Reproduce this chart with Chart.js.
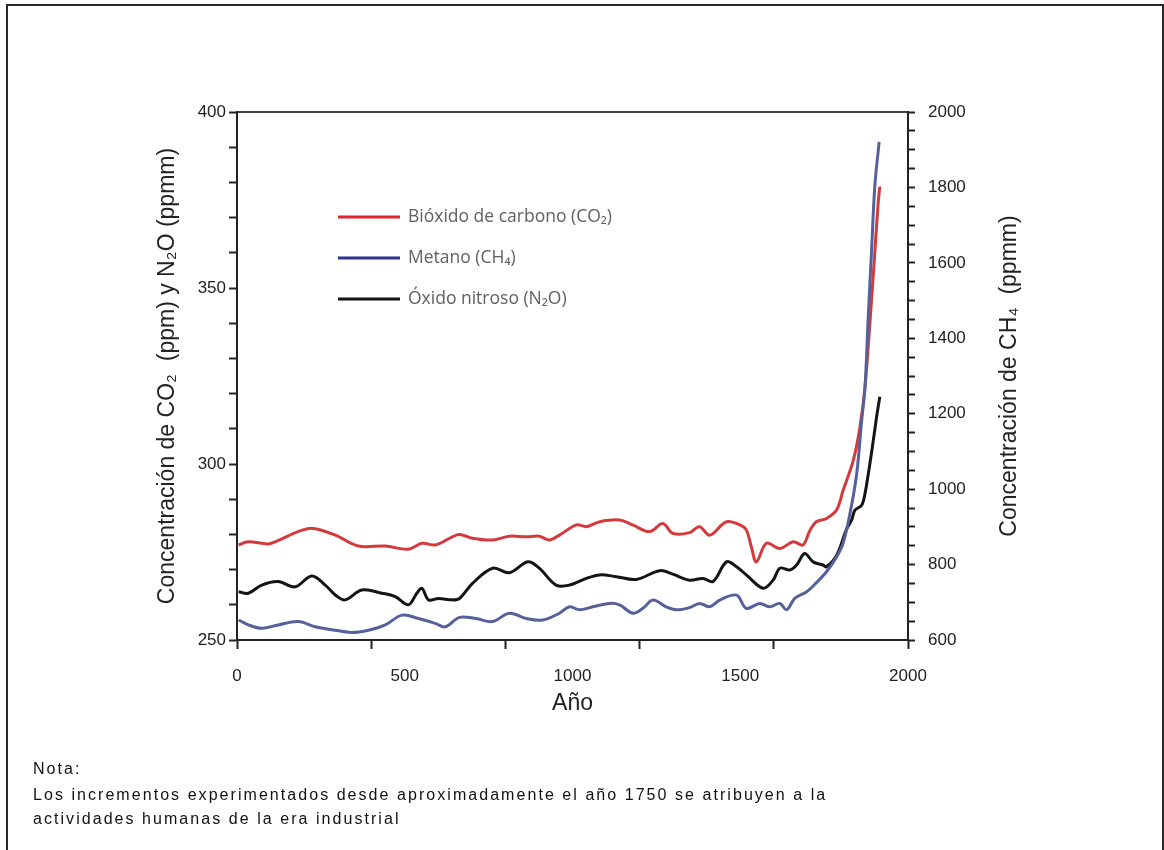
<!DOCTYPE html>
<html>
<head>
<meta charset="utf-8">
<script src="https://cdn.jsdelivr.net/npm/chart.js@4.4.1/dist/chart.umd.min.js"></script>
<style>
  html, body { margin: 0; padding: 0; background: #fff; }
  #wrap { position: relative; width: 1164px; height: 850px; overflow: hidden; }
  #frame {
    position: absolute; left: 6px; top: 4px; width: 1158px; height: 900px;
    border-left: 2px solid #2a2a2a; border-top: 2px solid #2a2a2a; border-right: 2px solid #2a2a2a;
    box-sizing: border-box;
  }
  #chartBox { position: absolute; left: 0; top: 0; width: 1164px; height: 850px; }
  .note {
    position: absolute; left: 33px; font-family: "Liberation Sans", Arial, sans-serif;
    font-size: 16px; letter-spacing: 2.05px; color: #111; white-space: nowrap;
  }
</style>
</head>
<body>
<div id="wrap">
  <div id="frame"></div>
  <div id="chartBox"><canvas id="gasChart" width="1164" height="850"></canvas></div>
  <div class="note" style="top:760px;">Nota:</div>
  <div class="note" style="top:786px;">Los incrementos experimentados desde aproximadamente el año 1750 se atribuyen a la</div>
  <div class="note" style="top:810px;">actividades humanas de la era industrial</div>
</div>
<script>
// Series labels
const seriesLabels = ['Bióxido de carbono (CO₂)', 'Metano (CH₄)', 'Óxido nitroso (N₂O)'];

// CO2 (ppm, left axis)
const co2Years = [5, 33, 93, 122, 182, 227, 293, 361, 442, 510, 552, 591, 642, 663, 702, 761, 812, 862, 901, 931, 961, 1012, 1042, 1081, 1140, 1179, 1230, 1269, 1299, 1349, 1379, 1409, 1459, 1499, 1518, 1533, 1548, 1578, 1618, 1658, 1687, 1707, 1727, 1757, 1787, 1807, 1837, 1857, 1872, 1887, 1901, 1911, 1916];
const co2Values = [277.0, 277.9, 277.3, 278.2, 280.8, 281.7, 279.8, 276.7, 276.7, 275.8, 277.5, 277.0, 279.3, 280.0, 278.9, 278.4, 279.5, 279.3, 279.5, 278.4, 279.8, 282.7, 282.2, 283.6, 284.1, 282.7, 280.8, 283.1, 280.3, 280.5, 282.2, 279.8, 283.6, 282.7, 281.3, 276.5, 272.2, 277.5, 276.0, 277.9, 277.0, 281.0, 283.6, 284.5, 286.9, 292.6, 301.1, 310.6, 322.0, 340.9, 359.9, 374.1, 378.8];

// CH4 (ppmm, right axis)
const ch4Years = [5, 34, 74, 123, 183, 233, 293, 342, 392, 442, 492, 541, 591, 621, 663, 712, 762, 812, 862, 911, 961, 991, 1021, 1061, 1110, 1140, 1180, 1210, 1240, 1279, 1309, 1349, 1379, 1409, 1439, 1489, 1518, 1558, 1588, 1618, 1638, 1663, 1698, 1727, 1757, 1787, 1807, 1827, 1847, 1862, 1872, 1881, 1891, 1901, 1914];
const ch4Values = [653, 640, 631, 640, 649, 635, 626, 620, 626, 640, 666, 657, 644, 635, 660, 657, 649, 671, 657, 653, 671, 688, 680, 688, 697, 693, 671, 684, 706, 688, 680, 686, 697, 688, 706, 719, 684, 697, 688, 697, 680, 711, 728, 752, 781, 820, 858, 935, 1040, 1183, 1272, 1448, 1625, 1802, 1921];

// N2O (ppmm, left axis)
const n2oYears = [5, 34, 74, 123, 173, 223, 263, 293, 322, 372, 432, 472, 511, 536, 551, 571, 601, 641, 663, 702, 762, 812, 867, 901, 951, 991, 1041, 1081, 1130, 1190, 1260, 1299, 1349, 1389, 1419, 1459, 1489, 1518, 1568, 1598, 1618, 1648, 1668, 1692, 1717, 1747, 1757, 1787, 1817, 1832, 1842, 1862, 1872, 1882, 1891, 1901, 1908, 1916];
const n2oValues = [263.7, 263.3, 265.6, 266.6, 265.1, 268.2, 265.6, 262.8, 261.4, 264.2, 263.3, 262.3, 260.0, 263.3, 264.7, 261.4, 261.8, 261.4, 261.8, 266.1, 270.4, 269.1, 272.2, 270.4, 265.6, 265.6, 267.5, 268.5, 268.0, 267.2, 269.7, 268.7, 267.0, 267.5, 266.6, 272.2, 270.8, 268.5, 264.7, 267.0, 270.4, 269.9, 271.3, 274.6, 272.2, 271.3, 270.8, 274.0, 281.5, 284.1, 286.9, 288.3, 291.7, 297.4, 303.0, 309.7, 314.4, 319.1];

// Tick labels
const yearLabels = [0, 500, 1000, 1500, 2000];
const yearMarks = [0, 400, 800, 1200, 1600, 2000];
const rightTitle = 'Concentración de CH₄  (ppmm)';

const toPoints = (xs, ys) => xs.map((x, i) => ({ x: x, y: ys[i] }));

const fontFamily = '"Liberation Sans", Arial, sans-serif';
const axisFont = { family: fontFamily, size: 17 };
const titleFont = { family: fontFamily, size: 23 };
const axisColor = '#222';

// Legend drawn inside the plot area
const innerLegend = {
    id: 'innerLegend',
    afterDatasetsDraw(chart) {
        const ctx = chart.ctx;
        const area = chart.chartArea;
        const x0 = area.left + 101;
        let y = area.top + 105;
        ctx.save();
        ctx.font = '17.5px "Open Sans", sans-serif';
        ctx.textBaseline = 'middle';
        chart.data.datasets.forEach(ds => {
            ctx.strokeStyle = ds.legendColor;
            ctx.lineWidth = 3;
            ctx.beginPath();
            ctx.moveTo(x0, y);
            ctx.lineTo(x0 + 62, y);
            ctx.stroke();
            ctx.fillStyle = '#606060';
            ctx.fillText(ds.label, x0 + 70, y);
            y += 41;
        });
        ctx.restore();
    }
};

// Right axis title, reading bottom to top like the left one
const rightAxisTitle = {
    id: 'rightAxisTitle',
    afterDraw(chart) {
        const ctx = chart.ctx;
        const s = chart.scales.y2;
        ctx.save();
        ctx.translate(s.right - 11, (s.top + s.bottom) / 2);
        ctx.rotate(-Math.PI / 2);
        ctx.font = '23px ' + fontFamily;
        ctx.fillStyle = axisColor;
        ctx.textAlign = 'center';
        ctx.textBaseline = 'middle';
        ctx.fillText(rightTitle, 0, 0);
        ctx.restore();
    }
};

let gasCanvas = document.getElementById('gasChart');
let gasChart = new Chart(gasCanvas, {
    type: 'line',
    data: {
        datasets: [{
            label: seriesLabels[0],
            data: toPoints(co2Years, co2Values),
            yAxisID: 'y',
            borderColor: '#d43a3c',
            legendColor: '#e0262b',
            order: 1
        }, {
            label: seriesLabels[1],
            data: toPoints(ch4Years, ch4Values),
            yAxisID: 'y2',
            borderColor: '#56609a',
            legendColor: '#2e3590',
            order: 0
        }, {
            label: seriesLabels[2],
            data: toPoints(n2oYears, n2oValues),
            yAxisID: 'y',
            borderColor: '#141414',
            legendColor: '#141414',
            order: 2
        }]
    },
    options: {
        responsive: false,
        animation: false,
        layout: { padding: { left: 154, right: 143, top: 112, bottom: 130 } },
        elements: {
            line: { borderWidth: 3, tension: 0.35 },
            point: { radius: 0 }
        },
        plugins: {
            legend: { display: false },
            tooltip: { enabled: false }
        },
        scales: {
            x: {
                type: 'linear',
                position: 'bottom',
                min: 0,
                max: 2000,
                afterBuildTicks: scale => {
                    const vals = Array.from(new Set(yearLabels.concat(yearMarks))).sort((a, b) => a - b);
                    scale.ticks = vals.map(v => ({ value: v }));
                },
                afterFit: scale => { scale.height = 80; },
                ticks: {
                    autoSkip: false,
                    maxRotation: 0,
                    font: axisFont,
                    color: axisColor,
                    padding: 17,
                    callback: v => yearLabels.includes(v) ? String(v) : ''
                },
                grid: {
                    drawOnChartArea: false,
                    tickLength: 9,
                    tickWidth: 2,
                    tickColor: ctx => (ctx.tick && yearMarks.includes(ctx.tick.value)) ? axisColor : 'rgba(0,0,0,0)'
                },
                border: { color: axisColor, width: 2 },
                title: { display: true, text: 'Año', font: titleFont, color: axisColor, padding: { top: 0, bottom: 3 } }
            },
            xTop: {
                type: 'linear',
                position: 'top',
                min: 0,
                max: 2000,
                afterFit: scale => { scale.height = 0; },
                ticks: { display: false },
                grid: { drawOnChartArea: false, drawTicks: false },
                border: { color: '#444', width: 2 }
            },
            y: {
                type: 'linear',
                position: 'left',
                min: 250,
                max: 400,
                afterFit: scale => { scale.width = 83; },
                ticks: {
                    stepSize: 10,
                    autoSkip: false,
                    font: axisFont,
                    color: axisColor,
                    padding: 3,
                    callback: v => v % 50 === 0 ? String(v) : ''
                },
                grid: { drawOnChartArea: false, tickLength: 8, tickWidth: 2, tickColor: axisColor },
                border: { color: axisColor, width: 2 },
                title: { display: true, text: 'Concentración de CO₂  (ppm) y N₂O (ppmm)', font: titleFont, color: axisColor, padding: { top: 0, bottom: 0 } }
            },
            y2: {
                type: 'linear',
                position: 'right',
                min: 600,
                max: 2000,
                afterFit: scale => { scale.width = 113; },
                ticks: {
                    stepSize: 50,
                    autoSkip: false,
                    font: axisFont,
                    color: axisColor,
                    padding: 13,
                    callback: v => v % 200 === 0 ? String(v) : ''
                },
                grid: { drawOnChartArea: false, tickLength: 7, tickWidth: 2, tickColor: axisColor },
                border: { color: axisColor, width: 2 }
            }
        }
    },
    plugins: [innerLegend, rightAxisTitle]
});
</script>
</body>
</html>
